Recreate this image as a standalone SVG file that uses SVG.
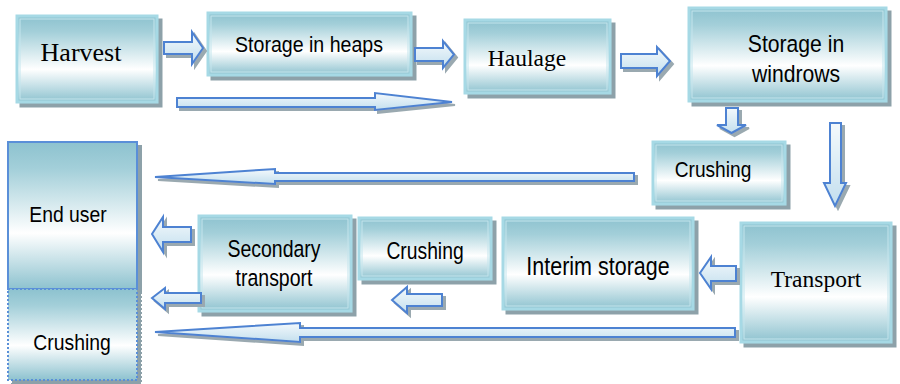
<svg xmlns="http://www.w3.org/2000/svg" width="900" height="384" viewBox="0 0 900 384">
  <defs>
    <linearGradient id="boxFill" x1="0" y1="0" x2="0" y2="1">
      <stop offset="0" stop-color="#8dc2cf"/>
      <stop offset="0.18" stop-color="#a3cfd9"/>
      <stop offset="0.62" stop-color="#ffffff"/>
      <stop offset="1" stop-color="#8dc2cf"/>
    </linearGradient>
    <linearGradient id="arrowFill" x1="0" y1="0" x2="0" y2="1">
      <stop offset="0" stop-color="#f4f9fc"/>
      <stop offset="1" stop-color="#c3dfee"/>
    </linearGradient>
    <filter id="shadow" filterUnits="userSpaceOnUse" x="0" y="0" width="900" height="384">
      <feOffset in="SourceAlpha" dx="4" dy="4" result="off"/>
      <feFlood flood-color="#8da1a9"/>
      <feComposite in2="off" operator="in" result="sh"/>
      <feMerge><feMergeNode in="sh"/><feMergeNode in="SourceGraphic"/></feMerge>
    </filter>
    <filter id="ashadow" filterUnits="userSpaceOnUse" x="0" y="0" width="900" height="384">
      <feOffset in="SourceAlpha" dx="3" dy="3" result="off"/>
      <feFlood flood-color="#9aa9b0"/>
      <feComposite in2="off" operator="in" result="sh"/>
      <feMerge><feMergeNode in="sh"/><feMergeNode in="SourceGraphic"/></feMerge>
    </filter>
  </defs>
  <style>
    .box { fill: url(#boxFill); stroke: #a6d9e5; stroke-width: 3; filter: url(#shadow); }
    .inner { fill: none; stroke: #c4e5ed; stroke-width: 1; }
    .user { fill: url(#boxFill); stroke: #5a8fd8; stroke-width: 2; filter: url(#shadow); }
    .dotted { fill: url(#boxFill); stroke: #5a8fd8; stroke-width: 2; stroke-dasharray: 2 2; filter: url(#shadow); }
    .arr { fill: url(#arrowFill); stroke: #4d82d2; stroke-width: 2; stroke-linejoin: miter; filter: url(#ashadow); }
    .sans { font-family: "Liberation Sans", Arial, sans-serif; fill: #000; text-anchor: middle; }
    .serif { font-family: "Liberation Serif", "Times New Roman", serif; fill: #000; text-anchor: middle; }
  </style>

  <!-- process steps; sans labels are set in a narrowed face via horizontal scaling -->
  <g id="harvest">
    <rect class="box" x="17" y="16" width="140" height="86"/>
    <rect class="inner" x="20" y="19" width="134" height="80"/>
    <text class="serif" x="81" y="61" font-size="26">Harvest</text>
  </g>
  <g id="storage-heaps">
    <rect class="box" x="208" y="13" width="203" height="62"/>
    <rect class="inner" x="211" y="16" width="197" height="56"/>
    <text class="sans" transform="translate(309 52) scale(0.89 1)" font-size="22">Storage in heaps</text>
  </g>
  <g id="haulage">
    <rect class="box" x="465" y="20" width="145" height="73"/>
    <rect class="inner" x="468" y="23" width="139" height="67"/>
    <text class="serif" x="527" y="66" font-size="23.5">Haulage</text>
  </g>
  <g id="storage-windrows">
    <rect class="box" x="689" y="8" width="197" height="93"/>
    <rect class="inner" x="692" y="11" width="191" height="87"/>
    <text class="sans" transform="translate(796 52) scale(0.9 1)" font-size="23.5">Storage in</text>
    <text class="sans" transform="translate(796 82) scale(0.9 1)" font-size="23.5">windrows</text>
  </g>
  <g id="crushing-1">
    <rect class="box" x="653" y="142" width="132" height="62"/>
    <rect class="inner" x="656" y="145" width="126" height="56"/>
    <text class="sans" transform="translate(713 177) scale(0.87 1)" font-size="22">Crushing</text>
  </g>
  <g id="transport">
    <rect class="box" x="741" y="223" width="150" height="119"/>
    <rect class="inner" x="744" y="226" width="144" height="113"/>
    <text class="serif" x="816" y="287" font-size="23.5">Transport</text>
  </g>
  <g id="interim-storage">
    <rect class="box" x="503" y="218" width="190" height="91"/>
    <rect class="inner" x="506" y="221" width="184" height="85"/>
    <text class="sans" transform="translate(598 275) scale(0.86 1)" font-size="25">Interim storage</text>
  </g>
  <g id="crushing-2">
    <rect class="box" x="359" y="218" width="132" height="61"/>
    <rect class="inner" x="362" y="221" width="126" height="55"/>
    <text class="sans" transform="translate(425 259) scale(0.84 1)" font-size="23">Crushing</text>
  </g>
  <g id="secondary-transport">
    <rect class="box" x="199" y="216" width="152" height="95"/>
    <rect class="inner" x="202" y="219" width="146" height="89"/>
    <text class="sans" transform="translate(274 257) scale(0.83 1)" font-size="23.5">Secondary</text>
    <text class="sans" transform="translate(274 286) scale(0.83 1)" font-size="23.5">transport</text>
  </g>
  <g id="end-user">
    <rect class="user" x="8" y="142" width="129" height="147"/>
    <text class="sans" transform="translate(68 222) scale(0.9 1)" font-size="21.5">End user</text>
  </g>
  <g id="crushing-3">
    <rect class="dotted" x="8" y="289" width="129" height="91"/>
    <text class="sans" transform="translate(72 350) scale(0.9 1)" font-size="21.5">Crushing</text>
  </g>

  <!-- block arrows -->
  <g id="connectors">
    <polygon class="arr" points="164,42 192,42 192,32 203,48 192,64 192,54 164,54"/>
    <polygon class="arr" points="415,48 443,48 443,41 454,54.5 443,68 443,61 415,61"/>
    <polygon class="arr" points="177,98 375,98 375,93 452,102 375,110 375,107 177,107"/>
    <polygon class="arr" points="621,54 657,54 657,47 670,61 657,76 657,68 621,68"/>
    <polygon class="arr" points="726,108 738,108 738,125 746,125 731.5,133 717,125 726,125"/>
    <polygon class="arr" points="830,123 841,123 841,183 846,183 835,206 824,183 830,183"/>
    <polygon class="arr" points="634,173 275,173 275,169 155,177 275,184 275,181 634,181"/>
    <polygon class="arr" points="736,266 711,266 711,257 700,273 711,289 711,281 736,281"/>
    <polygon class="arr" points="191,227 163,227 163,217 152,234 163,252 163,242 191,242"/>
    <polygon class="arr" points="201,293 165,293 165,288 152,298 165,309 165,303 201,303"/>
    <polygon class="arr" points="442,294 407,294 407,287 392,300 407,313 407,306 442,306"/>
    <polygon class="arr" points="735,328 300,328 300,323 155,332 300,342 300,337 735,337"/>
  </g>
</svg>
